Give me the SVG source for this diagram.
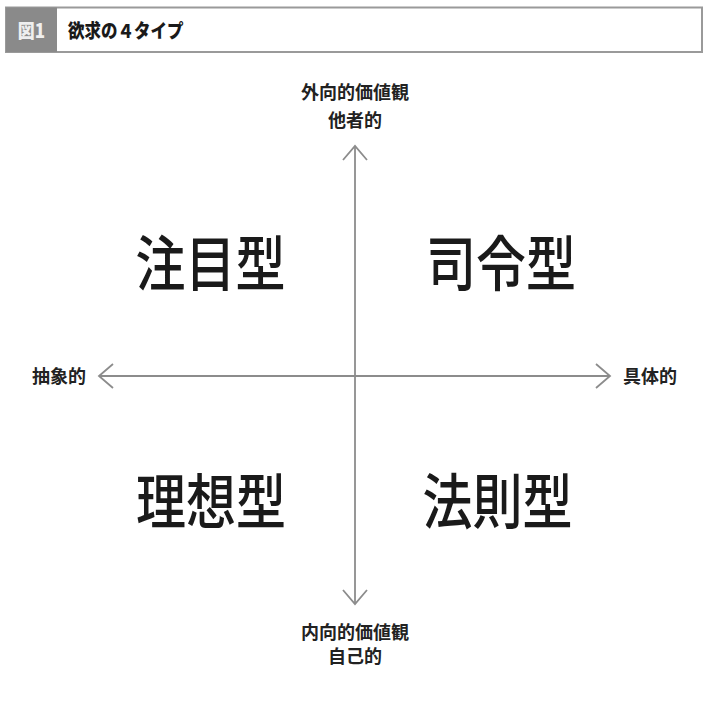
<svg xmlns="http://www.w3.org/2000/svg" width="711" height="711" viewBox="0 0 711 711">
<style>
.cjk{font-family:"Noto Sans CJK JP","Noto Sans CJK SC",sans-serif;}
.lbl{font-size:18px;font-weight:700;fill:#222;}
.big{font-size:50px;font-weight:500;fill:#1a1a1a;}
.axis{stroke:#8c8c8c;stroke-width:1.8;fill:none;}
</style>
<defs>
<marker id="chev" markerUnits="userSpaceOnUse" markerWidth="30" markerHeight="30" refX="14" refY="12" orient="auto-start-reverse" viewBox="-2 -2 30 30">
<path d="M0,0 L14,12 L0,24" fill="none" stroke="#8c8c8c" stroke-width="1.8"/>
</marker>
</defs>
<rect width="711" height="711" fill="#fff"/>
<g id="header">
<rect x="6" y="7.5" width="696" height="44.5" fill="#fff" stroke="#9a9a9a" stroke-width="2"/>
<rect x="6" y="7.5" width="51" height="44.5" fill="#8a8a8a"/>
<text transform="translate(31.5,37.5) scale(1,1.15)" text-anchor="middle" class="cjk" font-size="17" font-weight="900" fill="#efefef">図1</text>
<text transform="translate(68,37.5) scale(1,1.15)" class="cjk" font-size="16.5" font-weight="900" fill="#1a1a1a">欲求の４タイプ</text>
</g>
<g id="connectors">
<line class="axis" x1="99" y1="376" x2="610" y2="376" marker-start="url(#chev)" marker-end="url(#chev)"/>
<line class="axis" x1="355" y1="146" x2="355" y2="604" marker-start="url(#chev)" marker-end="url(#chev)"/>
</g>
<g id="label-top">
<text x="355" y="98.5" text-anchor="middle" class="cjk lbl">外向的価値観</text>
<text x="355" y="126.5" text-anchor="middle" class="cjk lbl">他者的</text>
</g>
<g id="label-bottom">
<text x="355" y="638.5" text-anchor="middle" class="cjk lbl">内向的価値観</text>
<text x="355" y="663" text-anchor="middle" class="cjk lbl">自己的</text>
</g>
<g id="label-left">
<text x="86" y="382.5" text-anchor="end" class="cjk lbl">抽象的</text>
</g>
<g id="label-right">
<text x="623" y="382.5" class="cjk lbl">具体的</text>
</g>
<g id="q-chumoku">
<text transform="translate(210.5,286) scale(1,1.2)" text-anchor="middle" class="cjk big">注目型</text>
</g>
<g id="q-shirei">
<text transform="translate(501,286) scale(1,1.2)" text-anchor="middle" class="cjk big">司令型</text>
</g>
<g id="q-riso">
<text transform="translate(211,524) scale(1,1.2)" text-anchor="middle" class="cjk big">理想型</text>
</g>
<g id="q-hosoku">
<text transform="translate(497.5,524) scale(1,1.2)" text-anchor="middle" class="cjk big">法則型</text>
</g>
</svg>
